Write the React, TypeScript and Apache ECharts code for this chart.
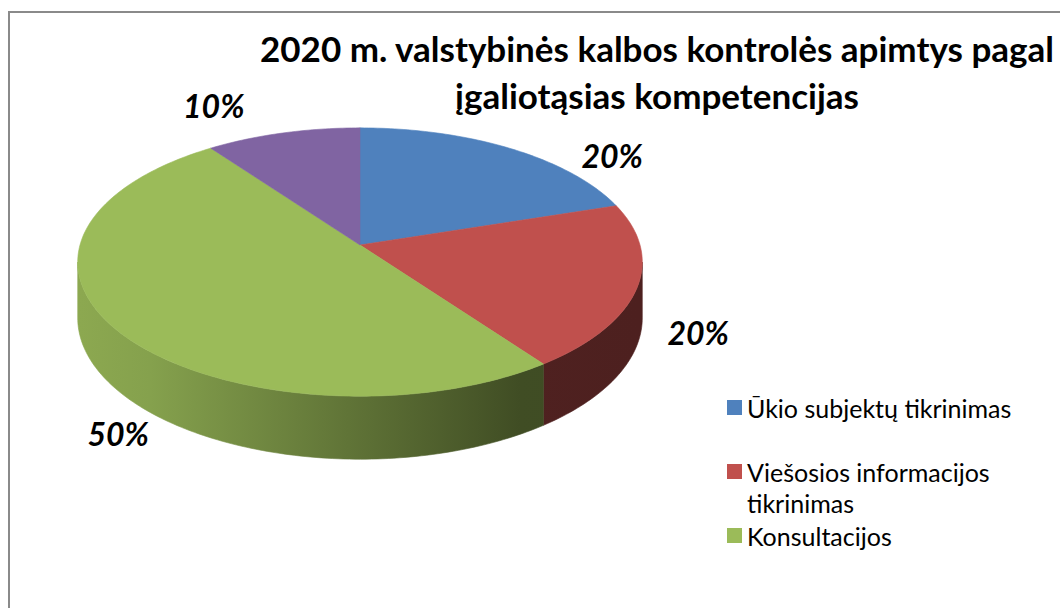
import React, { useEffect, useRef } from 'react';
import * as echarts from 'echarts';

// ---------- data ----------
const TITLE_LINES = ['2020 m. valstybinės kalbos kontrolės apimtys pagal', 'įgaliotąsias kompetencijas'];
const CATEGORIES = ['Ūkio subjektų tikrinimas', 'Viešosios informacijos tikrinimas', 'Konsultacijos', 'Kita'];
const VALUES = [20, 20, 50, 10];
const LEGEND_CATEGORIES = CATEGORIES.slice(0, 3);

// ---------- styles / layout ----------
const COLORS = ['#4F81BD', '#C0504D', '#9BBB59', '#8064A2'];
const PIE = { cx: 360, cy: 245, rx: 280, ry: 132, persp: 0.127, depth: 55 };
const LABEL_NUDGE = [
  [103, 7],
  [61, 45],
  [3, 105],
  [-69, -27],
];
const FONT = 'Lato, Calibri, "Open Sans", sans-serif';
const LEGEND_LINE = 31;

function shade(hex: string, f: number): string {
  const n = parseInt(hex.slice(1), 16);
  const r = Math.round(((n >> 16) & 255) * f);
  const g = Math.round(((n >> 8) & 255) * f);
  const b = Math.round((n & 255) * f);
  return `rgb(${r},${g},${b})`;
}

function project(t: number) {
  const u = Math.cos(t);
  const v = Math.sin(t);
  const s = 1 / (1 + PIE.persp * v);
  return { x: PIE.cx + PIE.rx * u * s, y: PIE.cy - PIE.ry * v * s, d: PIE.depth * s };
}

const TOTAL = VALUES.reduce((a, b) => a + b, 0);

function renderSlice(params: any, api: any) {
  const i = params.seriesIndex;
  const value = api.value(0);
  const before = VALUES.slice(0, i).reduce((a, b) => a + b, 0);
  const f0 = before / TOTAL;
  const f1 = (before + value) / TOTAL;
  const th0 = Math.PI / 2 - 2 * Math.PI * f0;
  const th1 = Math.PI / 2 - 2 * Math.PI * f1;
  const base = COLORS[i];
  const children: any[] = [];

  // side wall (visible front part)
  const a = Math.asin(PIE.persp);
  const lo = Math.max(th1, -Math.PI + a);
  const hi = Math.min(th0, -a);
  if (hi > lo) {
    const n = Math.max(2, Math.ceil((hi - lo) / (Math.PI / 180)));
    const topPts: number[][] = [];
    const botPts: number[][] = [];
    for (let k = 0; k <= n; k++) {
      const t = lo + ((hi - lo) * k) / n;
      const p = project(t);
      topPts.push([p.x, p.y]);
      botPts.push([p.x, p.y + p.d]);
    }
    const pts = topPts.concat(botPts.reverse());
    const x0 = PIE.cx - PIE.rx;
    const x1 = PIE.cx + PIE.rx;
    const grad = new echarts.graphic.LinearGradient(
      x0, 0, x1, 0,
      [
        { offset: 0, color: shade(base, 0.9) },
        { offset: 0.125, color: shade(base, 0.86) },
        { offset: 0.786, color: shade(base, 0.41) },
        { offset: 1, color: shade(base, 0.4) },
      ],
      true
    );
    children.push({
      type: 'polygon',
      z2: 1,
      shape: { points: pts },
      style: { fill: grad, stroke: grad, lineWidth: 0.6 },
    });
  }

  // top face
  const nTop = Math.max(2, Math.ceil((th0 - th1) / (Math.PI / 180)));
  const top: number[][] = [[PIE.cx, PIE.cy]];
  for (let k = 0; k <= nTop; k++) {
    const t = th0 + ((th1 - th0) * k) / nTop;
    const p = project(t);
    top.push([p.x, p.y]);
  }
  children.push({
    type: 'polygon',
    z2: 5,
    shape: { points: top },
    style: { fill: base, stroke: base, lineWidth: 0.6, lineJoin: 'round' },
  });

  // label
  const mid = (th0 + th1) / 2;
  const m = project(mid);
  const pct = Math.round((value / TOTAL) * 100) + '%';
  children.push({
    type: 'text',
    z2: 10,
    x: m.x + LABEL_NUDGE[i][0],
    y: m.y + LABEL_NUDGE[i][1],
    style: {
      text: pct,
      fill: '#000',
      fontFamily: FONT,
      fontSize: 32,
      fontWeight: 'bold',
      fontStyle: 'italic',
      align: 'center',
      verticalAlign: 'middle',
    },
  });

  return { type: 'group', children };
}

export default function App() {
  const ref = useRef<HTMLDivElement>(null);

  useEffect(() => {
    if (!ref.current) return;
    const chart = echarts.init(ref.current, undefined, { renderer: 'svg' });
    const series = CATEGORIES.map((name, i) => ({
      type: 'custom',
      name,
      coordinateSystem: 'none',
      silent: true,
      itemStyle: { color: COLORS[i] },
      renderItem: renderSlice,
      data: [[VALUES[i]]],
    }));
    chart.setOption({
      animation: false,
      backgroundColor: '#ffffff',
      title: {
        text: TITLE_LINES.join('\n'),
        left: 657,
        top: 24,
        padding: 0,
        textAlign: 'center',
        textStyle: {
          fontFamily: FONT,
          fontWeight: 'bold',
          fontSize: 35,
          lineHeight: 47,
          color: '#000',
        },
      },
      legend: {
        orient: 'vertical',
        left: 727,
        top: 392,
        padding: 0,
        itemGap: 2,
        itemWidth: 15,
        itemHeight: 15,
        icon: 'rect',
        selectedMode: false,
        textStyle: {
          fontFamily: FONT,
          fontSize: 25,
          lineHeight: LEGEND_LINE,
          color: '#000',
          width: 300,
          overflow: 'break',
          rich: { n: { fontFamily: FONT, fontSize: 25, lineHeight: LEGEND_LINE, color: '#000' } },
        },
        data: LEGEND_CATEGORIES.map((name, i) =>
          i === 1 ? { name, textStyle: { padding: [LEGEND_LINE, 0, 0, 0] } } : { name }
        ),
      },
      graphic: [
        {
          type: 'rect',
          silent: true,
          shape: { x: 9, y: 12, width: 1200, height: 800 },
          style: { fill: 'none', stroke: '#8a8a8a', lineWidth: 2 },
        },
      ],
      series,
    });
    return () => chart.dispose();
  }, []);

  return (
    <div
      ref={ref}
      style={{ position: 'absolute', left: 0, top: 0, width: 1060, height: 608, background: '#fff' }}
    />
  );
}
